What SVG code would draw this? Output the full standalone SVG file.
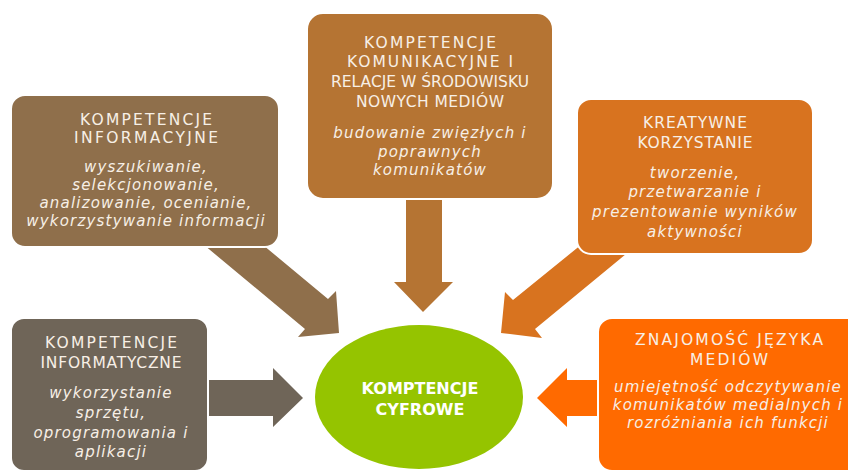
<svg xmlns="http://www.w3.org/2000/svg" width="848" height="470" viewBox="0 0 848 470">
  <style>
    .box { stroke: #ffffff; stroke-width: 2; }
    .hd { font-family: "DejaVu Sans", "Liberation Sans", sans-serif; font-size: 15.5px; fill: #f7efe6; text-anchor: middle; }
    .it { font-family: "DejaVu Sans", "Liberation Sans", sans-serif; font-size: 15px; font-style: italic; fill: #f7efe6; text-anchor: middle; letter-spacing: 1.2px; }
    .core { font-family: "DejaVu Sans", "Liberation Sans", sans-serif; font-size: 16px; font-weight: bold; fill: #ffffff; text-anchor: middle; }
  </style>
  <rect width="848" height="470" fill="#ffffff"/>

  <!-- block arrows pointing at the centre ellipse -->
  <g id="connectors">
    <polygon fill="#8f6f4b" points="198,240 257,240 328,299 336,291 339,333 298,337 305,329"/>
    <polygon fill="#b57433" points="406,200 442,200 442,282 453,282 423,312 394,282 406,282"/>
    <polygon fill="#d8731f" points="587,240 643,240 535,329 542,338 501,333 505,292 513,300"/>
    <polygon fill="#6f6558" points="205,380 273,380 273,368 303,398 273,427 273,416 205,416"/>
    <polygon fill="#ff6a00" points="605,380 567,380 567,368 537,398 567,427 567,416 605,416"/>
  </g>

  <g id="informacyjne">
    <rect class="box" x="11" y="95" width="268" height="152" rx="14" fill="#8f6f4b"/>
    <text class="hd" x="146" y="125" textLength="132" lengthAdjust="spacing">KOMPETENCJE</text>
    <text class="hd" x="146" y="143" textLength="144" lengthAdjust="spacing">INFORMACYJNE</text>
    <text class="it" x="146" y="172">wyszukiwanie,</text>
    <text class="it" x="146" y="190">selekcjonowanie,</text>
    <text class="it" x="146" y="208">analizowanie,  ocenianie,</text>
    <text class="it" x="146" y="226">wykorzystywanie informacji</text>
  </g>

  <g id="komunikacyjne">
    <rect class="box" x="307" y="13" width="246" height="186" rx="16" fill="#b57433"/>
    <text class="hd" x="430" y="48" textLength="132" lengthAdjust="spacing">KOMPETENCJE</text>
    <text class="hd" x="430" y="67" textLength="166" lengthAdjust="spacing">KOMUNIKACYJNE I</text>
    <text class="hd" x="430" y="87" textLength="198" lengthAdjust="spacing">RELACJE W ŚRODOWISKU</text>
    <text class="hd" x="430" y="107" textLength="148" lengthAdjust="spacing">NOWYCH MEDIÓW</text>
    <text class="it" x="430" y="138">budowanie zwięzłych i</text>
    <text class="it" x="430" y="157">poprawnych</text>
    <text class="it" x="430" y="175">komunikatów</text>
  </g>

  <g id="kreatywne">
    <rect class="box" x="577" y="99" width="236" height="155" rx="14" fill="#d8731f"/>
    <text class="hd" x="695" y="128" textLength="104" lengthAdjust="spacing">KREATYWNE</text>
    <text class="hd" x="695" y="148" textLength="115" lengthAdjust="spacing">KORZYSTANIE</text>
    <text class="it" x="695" y="178">tworzenie,</text>
    <text class="it" x="695" y="197">przetwarzanie i</text>
    <text class="it" x="695" y="217">prezentowanie wyników</text>
    <text class="it" x="695" y="237">aktywności</text>
  </g>

  <g id="informatyczne">
    <rect class="box" x="11" y="318" width="197" height="153" rx="13" fill="#6f6558"/>
    <text class="hd" x="111" y="348" textLength="132" lengthAdjust="spacing">KOMPETENCJE</text>
    <text class="hd" x="111" y="368" textLength="141" lengthAdjust="spacing">INFORMATYCZNE</text>
    <text class="it" x="111" y="398">wykorzystanie</text>
    <text class="it" x="111" y="418">sprzętu,</text>
    <text class="it" x="111" y="438">oprogramowania i</text>
    <text class="it" x="111" y="457">aplikacji</text>
  </g>

  <g id="jezyk-mediow">
    <rect class="box" x="598" y="318" width="270" height="153" rx="14" fill="#ff6a00"/>
    <text class="hd" x="729" y="345" textLength="188" lengthAdjust="spacing">ZNAJOMOŚĆ JĘZYKA</text>
    <text class="hd" x="729" y="365" textLength="78" lengthAdjust="spacing">MEDIÓW</text>
    <text class="it" x="728" y="392">umiejętność odczytywanie</text>
    <text class="it" x="728" y="410">komunikatów medialnych i</text>
    <text class="it" x="728" y="428">rozróżniania ich funkcji</text>
  </g>

  <g id="kompetencje-cyfrowe">
    <ellipse cx="419" cy="397" rx="104" ry="72" fill="#95c400"/>
    <text class="core" x="420" y="394">KOMPTENCJE</text>
    <text class="core" x="420" y="415">CYFROWE</text>
  </g>
</svg>
